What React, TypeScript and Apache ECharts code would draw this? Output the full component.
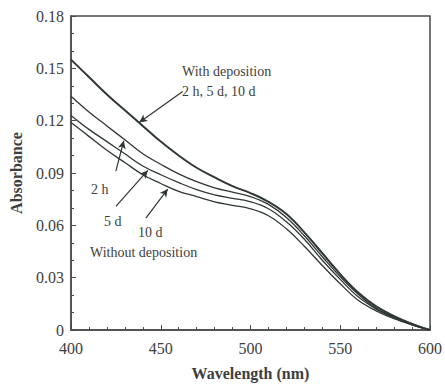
import React, { useEffect, useRef } from "react";
import * as echarts from "echarts";

// Wavelength grid (nm)
const wavelengths = [
  400, 410, 420, 430, 440, 450, 460, 470, 480, 490, 500,
  510, 520, 530, 540, 550, 560, 570, 580, 590, 600,
];

// Absorbance with deposition (2 h, 5 d and 10 d spectra overlap)
const withDeposition = [
  0.155, 0.145, 0.135, 0.126, 0.117, 0.108, 0.1, 0.093, 0.0875, 0.0825, 0.0785,
  0.0735, 0.0665, 0.056, 0.044, 0.032, 0.0215, 0.0135, 0.008, 0.0035, 0.0,
];

// Absorbance without deposition
const without2h = [
  0.134, 0.125, 0.117, 0.109, 0.101, 0.095, 0.0895, 0.085, 0.0815, 0.079, 0.0765,
  0.072, 0.0645, 0.054, 0.042, 0.0305, 0.0205, 0.0125, 0.0075, 0.0035, 0.0,
];
const without5d = [
  0.123, 0.115, 0.108, 0.101, 0.094, 0.089, 0.0845, 0.0805, 0.0775, 0.0755, 0.0735,
  0.0695, 0.062, 0.052, 0.040, 0.029, 0.019, 0.012, 0.007, 0.003, 0.0,
];
const without10d = [
  0.119, 0.111, 0.103, 0.096, 0.089, 0.084, 0.0795, 0.0765, 0.0735, 0.0715, 0.0695,
  0.0655, 0.058, 0.048, 0.037, 0.0265, 0.017, 0.011, 0.0065, 0.003, 0.0,
];

// Axis ticks
const xTicks = [400, 450, 500, 550, 600];
const yTicks = [0, 0.03, 0.06, 0.09, 0.12, 0.15, 0.18];

const INK = "#2f3833";
const TEXT = "#3e3e3e";
const FONT = "'Liberation Serif', 'DejaVu Serif', serif";

const pairs = (ys: number[]) => wavelengths.map((w, i) => [w, ys[i]]);

// Pointer lines from labels to curves, in data coordinates
const pointers: [number, number, number, number][] = [
  [462.2, 0.1367, 438.0, 0.119],
  [425.0, 0.0911, 429.4, 0.1085],
  [425.0, 0.0709, 442.8, 0.0915],
  [441.7, 0.0641, 453.9, 0.0808],
];

export default function App() {
  const ref = useRef<HTMLDivElement>(null);

  useEffect(() => {
    if (!ref.current) return;
    const chart = echarts.init(ref.current, null, { renderer: "svg" });

    const curve = (name: string, ys: number[], width: number) => ({
      name,
      type: "line",
      data: pairs(ys),
      smooth: 0.4,
      showSymbol: false,
      lineStyle: { color: INK, width },
      z: 3,
    });

    const labelText = (text: string, x: number, y: number) => ({
      type: "text",
      left: x,
      top: y,
      style: { text, fill: TEXT, font: `14px ${FONT}` },
    });

    chart.setOption({
      animation: false,
      backgroundColor: "#ffffff",
      grid: {
        left: 70,
        right: 15,
        top: 16,
        bottom: 50,
        show: true,
        borderColor: "#4a4a4a",
        borderWidth: 1.5,
        backgroundColor: "transparent",
      },
      xAxis: {
        type: "value",
        min: xTicks[0],
        max: xTicks[xTicks.length - 1],
        interval: 50,
        name: "Wavelength (nm)",
        nameLocation: "middle",
        nameGap: 35,
        nameTextStyle: { fontFamily: FONT, fontSize: 16, fontWeight: "bold", color: TEXT },
        axisLine: { show: true, lineStyle: { color: "#4a4a4a", width: 1.5 } },
        axisTick: { show: true, inside: true, length: 5, lineStyle: { color: "#4a4a4a" } },
        minorTick: { show: true, splitNumber: 5, length: 3, lineStyle: { color: "#4a4a4a" } },
        axisLabel: { fontFamily: FONT, fontSize: 16, color: TEXT, margin: 10 },
        splitLine: { show: false },
      },
      yAxis: {
        type: "value",
        min: yTicks[0],
        max: yTicks[yTicks.length - 1],
        interval: 0.03,
        name: "Absorbance",
        nameLocation: "middle",
        nameGap: 47,
        nameTextStyle: { fontFamily: FONT, fontSize: 16, fontWeight: "bold", color: TEXT },
        axisLine: { show: true, lineStyle: { color: "#4a4a4a", width: 1.5 } },
        axisTick: { show: true, inside: true, length: 5, lineStyle: { color: "#4a4a4a" } },
        minorTick: { show: true, splitNumber: 3, length: 3, lineStyle: { color: "#4a4a4a" } },
        axisLabel: {
          fontFamily: FONT,
          fontSize: 16,
          color: TEXT,
          margin: 7,
          formatter: (v: number) => (v === 0 ? "0" : v.toFixed(2)),
        },
        splitLine: { show: false },
      },
      series: [
        curve("With deposition", withDeposition, 2),
        curve("2 h", without2h, 1.3),
        curve("5 d", without5d, 1.3),
        {
          ...curve("10 d", without10d, 1.3),
          markLine: {
            silent: true,
            animation: false,
            symbol: ["none", "arrow"],
            symbolSize: [6, 8],
            label: { show: false },
            lineStyle: { color: INK, width: 1.2, type: "solid" },
            data: pointers.map(([x1, y1, x2, y2]) => [
              { coord: [x1, y1] },
              { coord: [x2, y2] },
            ]),
          },
        },
      ],
      graphic: [
        labelText("With deposition", 182, 64),
        labelText("2 h, 5 d, 10 d", 182, 84),
        labelText("2 h", 91, 182),
        labelText("5 d", 104, 214),
        labelText("10 d", 138, 225),
        labelText("Without deposition", 90, 245),
      ],
    });

    return () => chart.dispose();
  }, []);

  return (
    <div
      ref={ref}
      style={{ position: "fixed", left: 0, top: 0, width: 445, height: 386, background: "#fff" }}
    />
  );
}
